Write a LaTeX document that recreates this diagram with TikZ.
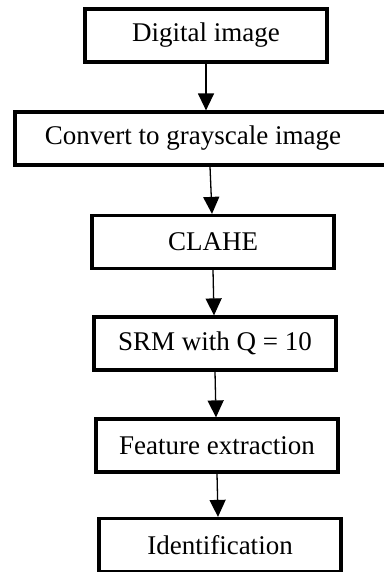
\documentclass[tikz,border=0pt]{standalone}
\usepackage{fontspec}
\setmainfont{Liberation Serif}
\usetikzlibrary{arrows.meta}
\tikzset{
  blok/.style={draw, line width=3.2pt, minimum width=242pt, minimum height=53pt,
    inner sep=0pt, font=\fontsize{27}{32}\selectfont},
  sipka/.style={-{Triangle[length=17pt,width=16pt]}, line width=1.3pt}
}
\begin{document}
\begin{tikzpicture}[x=1pt,y=-1pt]
  \useasboundingbox (0,0) rectangle (383,572);
  % bloky
  \node[blok] (digital) at (206,35.5) {Digital image};
  \node[blok, minimum width=372pt] (gray) at (201,138.5) {\hspace*{-16pt}Convert to grayscale image};
  \node[blok] (clahe) at (213,242) {CLAHE};
  \node[blok] (srm) at (215,343.5) {SRM with Q = 10};
  \node[blok] (feature) at (217,445.5) {Feature extraction};
  \node[blok] (ident) at (220,545) {Identification};

  % sipky
  \draw[sipka] (digital.south) -- (digital.south |- gray.north);
  \draw[sipka] ([xshift=9pt]gray.south) -- ([xshift=11pt]gray.south |- clahe.north);
  \draw[sipka] (clahe.south) -- ([xshift=1pt]clahe.south |- srm.north);
  \draw[sipka] (srm.south) -- ([xshift=1pt]srm.south |- feature.north);
  \draw[sipka] (feature.south) -- ([xshift=1pt]feature.south |- ident.north);
\end{tikzpicture}
\end{document}
